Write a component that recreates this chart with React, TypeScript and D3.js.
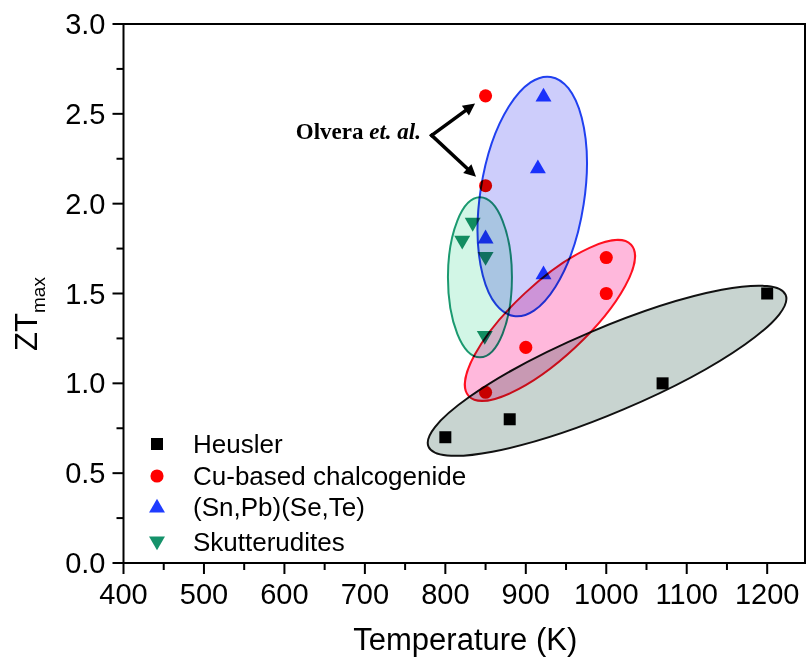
import React from 'react';
import * as d3 from 'd3';

// ---- data ----
const heuslerT = [800, 880, 1070, 1200];
const heuslerZT = [0.7, 0.8, 1.0, 1.5];
const cuT = [850, 850, 900, 1000, 1000, 850];
const cuZT = [2.6, 2.1, 1.2, 1.7, 1.5, 0.95];
const snT = [922, 915, 850, 922];
const snZT = [2.6, 2.2, 1.81, 1.61];
const skT = [834, 821, 850, 849];
const skZT = [1.89, 1.79, 1.7, 1.26];

const seriesNames = ['Heusler', 'Cu-based chalcogenide', '(Sn,Pb)(Se,Te)', 'Skutterudites'];

// cluster ellipse centres (T, ZT) for Heusler, Cu, SnPb, Skutterudites
const ellipseT = [1001, 930, 908, 843];
const ellipseZT = [1.07, 1.35, 2.04, 1.59];

const xTicks = [400, 500, 600, 700, 800, 900, 1000, 1100, 1200];
const xMinor = [450, 550, 650, 750, 850, 950, 1050, 1150];
const yTicks = [0, 0.5, 1.0, 1.5, 2.0, 2.5, 3.0];
const yMinor = [0.25, 0.75, 1.25, 1.75, 2.25, 2.75];

const annotationLabel = 'Olvera';
const annotationItalic = 'et. al.';
const annotationVertex = { T: 783, ZT: 2.38 };

// ---- layout / styles ----
const W = 806;
const H = 671;
const left = 123.5;
const right = 805;
const top = 24;
const bottom = 563;

const x = d3.scaleLinear().domain([400, 1247]).range([left, right]);
const y = d3.scaleLinear().domain([0, 3]).range([bottom, top]);

const styles = [
  { fill: '#000000', symbol: d3.symbolSquare, size: 144, rot: 0, efill: '#c8d4d0', estroke: '#111111', rx: 194, ry: 42, angle: -23 },
  { fill: '#ff0000', symbol: d3.symbolCircle, size: 135, rot: 0, efill: '#ffb8dc', estroke: '#ff1020', rx: 111, ry: 37, angle: -43 },
  { fill: '#1f3cff', symbol: d3.symbolTriangle, size: 110, rot: 0, efill: '#cdcdfb', estroke: '#2040f0', rx: 52, ry: 121, angle: 8.8 },
  { fill: '#15926a', symbol: d3.symbolTriangle, size: 110, rot: 180, efill: '#d2f6e6', estroke: '#1b9a70', rx: 32, ry: 80, angle: 0 },
];

const seriesT = [heuslerT, cuT, snT, skT];
const seriesZT = [heuslerZT, cuZT, snZT, skZT];

const FONT = 'Liberation Sans, Arial, Helvetica, sans-serif';

function Marker({ i, cx, cy }: { i: number; cx: number; cy: number }) {
  const s = styles[i];
  const path = d3.symbol().type(s.symbol).size(s.size)() as string;
  const dy = s.symbol === d3.symbolTriangle ? (s.rot ? -1 : 1) : 0;
  return (
    <path
      d={path}
      fill={s.fill}
      transform={`translate(${cx},${cy + dy}) rotate(${s.rot})`}
    />
  );
}

export default function App() {
  const vx = x(annotationVertex.T);
  const vy = y(annotationVertex.ZT);
  // arrow targets: the two Olvera points (first two Cu points)
  const targets = [0, 1].map((k) => {
    const tx = x(cuT[k]);
    const ty = y(cuZT[k]);
    const dx = tx - vx;
    const dyy = ty - vy;
    const len = Math.hypot(dx, dyy);
    const shorten = 13;
    return { x: vx + (dx * (len - shorten)) / len, y: vy + (dyy * (len - shorten)) / len, ang: Math.atan2(dyy, dx) };
  });

  return (
    <svg
      width={W}
      height={H}
      style={{ position: 'absolute', left: 0, top: 0, background: '#fff' }}
      fontFamily={FONT}
    >
      <rect x={0} y={0} width={W} height={H} fill="#fff" />

      {/* markers */}
      {seriesT.map((ts, i) =>
        ts.map((t, j) => <Marker key={`m${i}-${j}`} i={i} cx={x(t)} cy={y(seriesZT[i][j])} />)
      )}

      {/* cluster ellipses (multiplied over markers) */}
      {[1, 0, 3, 2].map((i) => {
        const s = styles[i];
        return (
          <ellipse
            key={`e${i}`}
            cx={0}
            cy={0}
            rx={s.rx}
            ry={s.ry}
            transform={`translate(${x(ellipseT[i])},${y(ellipseZT[i])}) rotate(${s.angle})`}
            fill={s.efill}
            stroke={s.estroke}
            strokeWidth={2}
            style={{ mixBlendMode: 'multiply' }}
          />
        );
      })}

      {/* frame */}
      <rect x={left} y={top} width={right - left} height={bottom - top} fill="none" stroke="#000" strokeWidth={2} />

      {/* x axis ticks */}
      {xTicks.map((t) => (
        <g key={`xt${t}`}>
          <line x1={x(t)} x2={x(t)} y1={bottom} y2={bottom + 11} stroke="#000" strokeWidth={2} />
          <text x={x(t)} y={bottom + 41} textAnchor="middle" fontSize={29} fill="#000">
            {t}
          </text>
        </g>
      ))}
      {xMinor.map((t) => (
        <line key={`xm${t}`} x1={x(t)} x2={x(t)} y1={bottom} y2={bottom + 7} stroke="#000" strokeWidth={2} />
      ))}

      {/* y axis ticks */}
      {yTicks.map((t) => (
        <g key={`yt${t}`}>
          <line x1={left - 11} x2={left} y1={y(t)} y2={y(t)} stroke="#000" strokeWidth={2} />
          <text x={left - 18} y={y(t) + 10} textAnchor="end" fontSize={29} fill="#000">
            {t.toFixed(1)}
          </text>
        </g>
      ))}
      {yMinor.map((t) => (
        <line key={`ym${t}`} x1={left - 7} x2={left} y1={y(t)} y2={y(t)} stroke="#000" strokeWidth={2} />
      ))}

      {/* axis titles */}
      <text x={(left + 767) / 2 + 20} y={650} textAnchor="middle" fontSize={31} fill="#000">
        Temperature (K)
      </text>
      <text transform={`translate(37,${314}) rotate(-90)`} textAnchor="middle" fontSize={31} fill="#000">
        ZT<tspan fontSize={19} dy={8}>max</tspan>
      </text>

      {/* legend */}
      {seriesNames.map((name, i) => {
        const ly = [444, 476, 507, 542][i];
        return (
          <g key={`lg${i}`}>
            <Marker i={i} cx={157} cy={ly} />
            <text x={193} y={ly + 9} fontSize={26} fill="#000">
              {name}
            </text>
          </g>
        );
      })}

      {/* annotation */}
      <text x={421} y={139} textAnchor="end" fontSize={23} fontWeight="bold" fontFamily="Liberation Serif, Times New Roman, serif" fill="#000">
        {annotationLabel} <tspan fontStyle="italic">{annotationItalic}</tspan>
      </text>
      {targets.map((tg, k) => {
        const headLen = 12;
        const headW = 6;
        const bx = tg.x - headLen * Math.cos(tg.ang);
        const by = tg.y - headLen * Math.sin(tg.ang);
        const px = -Math.sin(tg.ang) * headW;
        const py = Math.cos(tg.ang) * headW;
        return (
          <g key={`ar${k}`}>
            <line x1={vx} y1={vy} x2={bx} y2={by} stroke="#000" strokeWidth={3.5} strokeLinecap="square" />
            <path d={`M${tg.x},${tg.y} L${bx + px},${by + py} L${bx - px},${by - py} Z`} fill="#000" />
          </g>
        );
      })}
    </svg>
  );
}
